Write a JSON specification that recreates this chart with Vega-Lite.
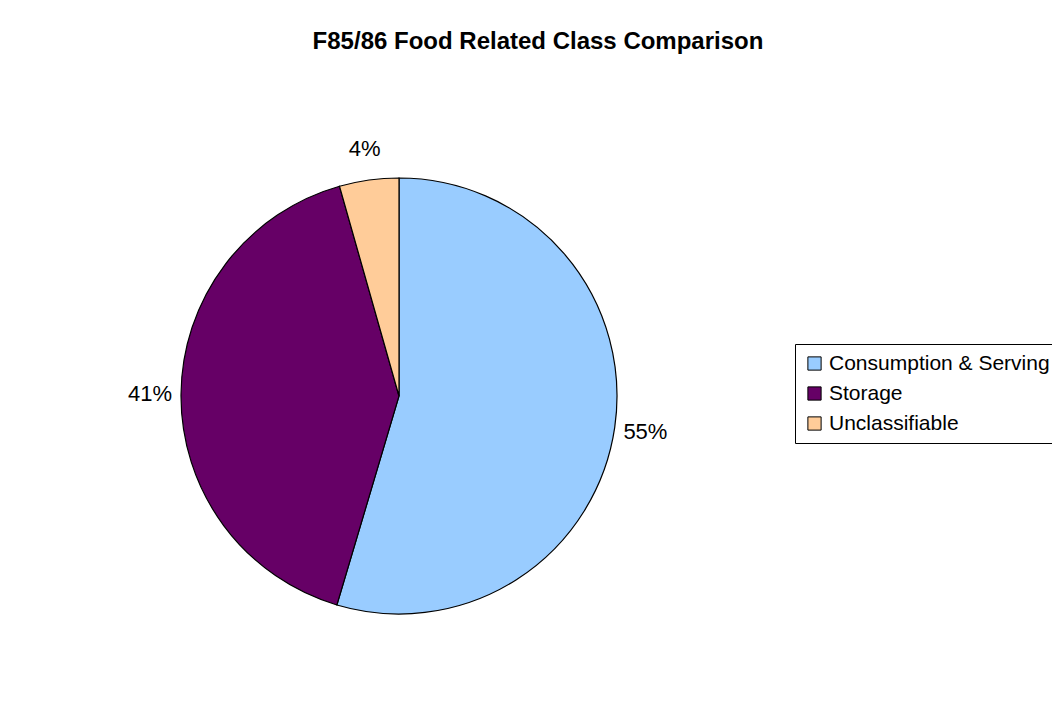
{
  "$schema": "https://vega.github.io/schema/vega-lite/v6.json",
  "autosize": {"type": "none"},
  "width": 436,
  "height": 436,
  "padding": {"left": 181, "top": 178, "right": 435, "bottom": 101},
  "background": "white",
  "config": {"view": {"stroke": null}, "font": "Liberation Sans"},
  "title": {
    "text": "F85/86 Food Related Class Comparison",
    "font": "Liberation Sans",
    "fontSize": 24,
    "fontWeight": "bold",
    "color": "black",
    "anchor": "middle",
    "dx": 139,
    "offset": 84
  },
  "data": {
    "values": [
      {"category": "Consumption & Serving", "value": 54.6, "label": "55%", "idx": 1},
      {"category": "Storage", "value": 41.0, "label": "41%", "idx": 2},
      {"category": "Unclassifiable", "value": 4.4, "label": "4%", "idx": 3}
    ]
  },
  "encoding": {
    "theta": {"field": "value", "type": "quantitative", "stack": true},
    "order": {"field": "idx", "type": "quantitative"}
  },
  "layer": [
    {
      "mark": {"type": "arc", "stroke": "black", "strokeWidth": 1.2},
      "encoding": {
        "color": {
          "field": "category",
          "type": "nominal",
          "scale": {
            "domain": ["Consumption & Serving", "Storage", "Unclassifiable"],
            "range": ["#99CCFF", "#660066", "#FFCC99"]
          },
          "legend": {
            "title": null,
            "orient": "none",
            "legendX": 614,
            "legendY": 166,
            "symbolType": "square",
            "symbolSize": 175,
            "symbolStrokeColor": "black",
            "symbolStrokeWidth": 1,
            "labelFont": "Liberation Sans",
            "labelFontSize": 21,
            "labelColor": "black",
            "labelOffset": 4,
            "rowPadding": 8,
            "strokeColor": "black",
            "fillColor": "white",
            "padding": 9,
            "labelLimit": 400
          }
        }
      }
    },
    {
      "mark": {"type": "text", "radius": 249, "font": "Liberation Sans", "fontSize": 22, "color": "black"},
      "encoding": {"text": {"field": "label", "type": "nominal"}}
    }
  ]
}
